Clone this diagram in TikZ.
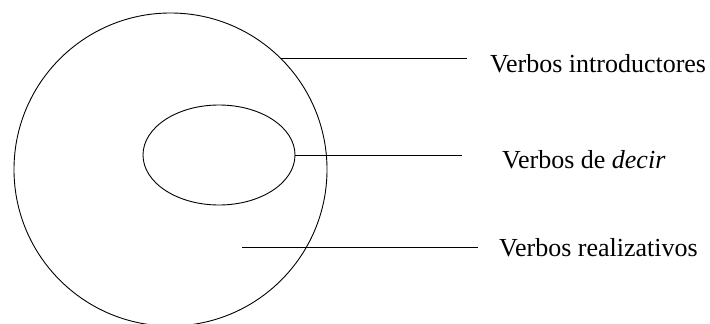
\documentclass[tikz,border=0pt]{standalone}
\usepackage{fontspec}
\setmainfont{Liberation Serif}
\usetikzlibrary{shapes.geometric}
\begin{document}
\begin{tikzpicture}[x=1pt,y=1pt,
  ring/.style={ellipse,draw,line width=0.9pt,inner sep=0pt},
  lead/.style={line width=1pt},
  lbl/.style={anchor=base west,inner sep=0pt,font=\fontsize{26}{30}\selectfont}]
\useasboundingbox (0,0) rectangle (710,-324);
\node[ring,minimum width=313pt,minimum height=313pt] (outer) at (170.5,-169.5) {};
\node[ring,minimum width=152pt,minimum height=100pt] (inner) at (219,-155) {};
\node[lbl] (t1) at (490,-72) {Verbos introductores};
\node[lbl] (t2) at (502,-168) {Verbos de \textit{decir}};
\node[lbl] (t3) at (499,-256) {Verbos realizativos};
\coordinate (e1) at (467,-59);
\coordinate (e2) at (462,-155);
\coordinate (e3) at (478,-247);
\coordinate (s3) at (242,-247);
\draw[lead] (outer.45) -- (outer.45 -| e1);
\draw[lead] (inner.east) -- (e2);
\draw[lead] (s3) -- (e3);
\end{tikzpicture}
\end{document}
